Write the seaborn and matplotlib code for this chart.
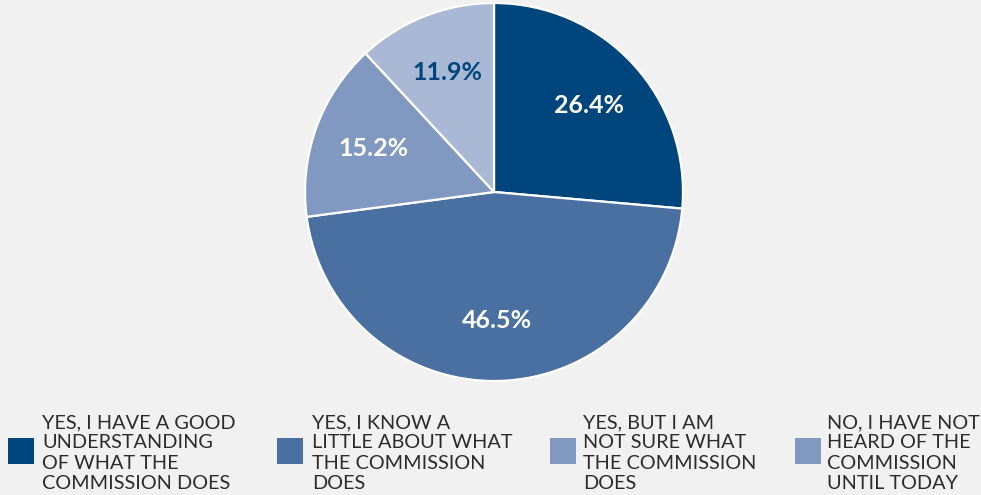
import matplotlib
matplotlib.use("Agg")
import matplotlib.pyplot as plt
from matplotlib.patches import Rectangle
import seaborn as sns

# Survey responses: awareness of the Commission
categories = [
    "YES, I HAVE A GOOD\nUNDERSTANDING\nOF WHAT THE\nCOMMISSION DOES",
    "YES, I KNOW A\nLITTLE ABOUT WHAT\nTHE COMMISSION\nDOES",
    "YES, BUT I AM\nNOT SURE WHAT\nTHE COMMISSION\nDOES",
    "NO, I HAVE NOT\nHEARD OF THE\nCOMMISSION\nUNTIL TODAY",
]
shares = [26.4, 46.5, 15.2, 11.9]
slice_colors = ["#00467d", "#4a6fa1", "#8199c0", "#a9b9d5"]
legend_colors = ["#00467d", "#4a6fa1", "#8199c0", "#8199c0"]
label_colors = ["white", "white", "white", "#00467d"]

BG = "#f1f1f1"
sns.set_theme(style="white", rc={"figure.facecolor": BG, "axes.facecolor": BG})
plt.rcParams["font.family"] = ["Lato", "DejaVu Sans"]

W, H = 981, 495
fig = plt.figure(figsize=(W / 100, H / 100), dpi=100)
fig.patch.set_facecolor(BG)

# pie axes: centre (494, 192) px, radius 189 px
cx, cy, r = 494, 192, 189
ax = fig.add_axes([(cx - r) / W, 1 - (cy + r) / H, 2 * r / W, 2 * r / H])
wedges, texts, autotexts = ax.pie(
    shares,
    colors=slice_colors,
    startangle=90,
    counterclock=False,
    radius=1,
    autopct=lambda p: f"{p:.1f}%",
    pctdistance=0.68,
    wedgeprops=dict(edgecolor="white", linewidth=1.6),
    textprops=dict(fontsize=18, fontweight="bold"),
)
for t, c, v in zip(autotexts, label_colors, shares):
    t.set_text(f"{v:.1f}%")
    t.set_color(c)
ax.set_xlim(-1.0, 1.0)
ax.set_ylim(-1.0, 1.0)
ax.set_aspect("equal")
ax.axis("off")

# legend row along the bottom
sq_x = [8, 277, 550, 795]
txt_x = [42, 312, 583, 827]
sq_top, sq_size = 438, 26
for x0, tx, col, lab in zip(sq_x, txt_x, legend_colors, categories):
    fig.patches.append(Rectangle((x0 / W, 1 - (sq_top + sq_size) / H), sq_size / W, sq_size / H,
                                 transform=fig.transFigure, facecolor=col, edgecolor="none"))
    fig.text(tx / W, 1 - 453 / H, lab, ha="left", va="center", fontsize=14.3,
             color="#2b2b2b", linespacing=1.22)

fig.savefig("out.png", dpi=100, facecolor=BG)
